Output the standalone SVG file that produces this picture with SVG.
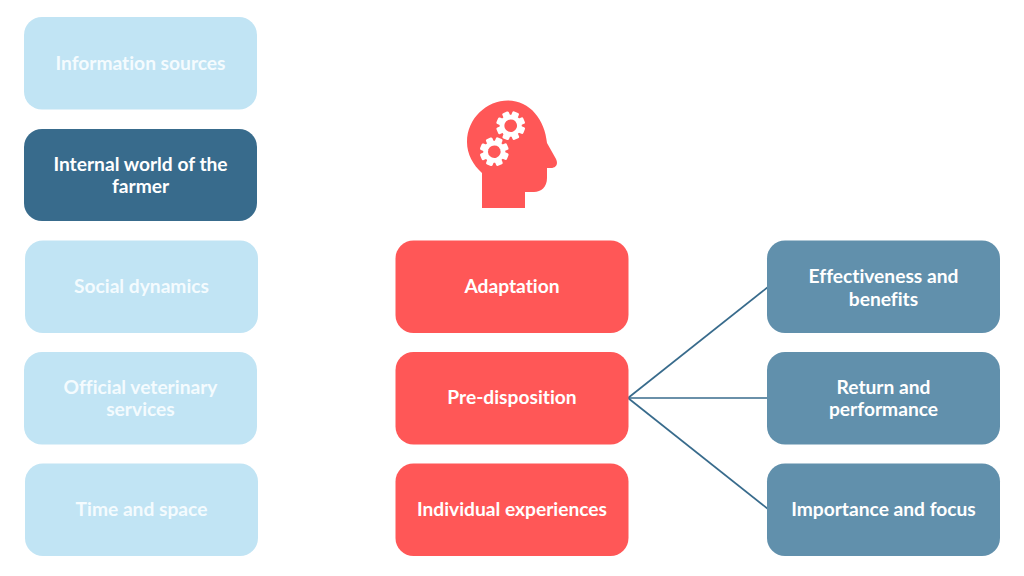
<svg xmlns="http://www.w3.org/2000/svg" width="1024" height="576" viewBox="0 0 1024 576">
<style>
.box{stroke:none}
.light{fill:#c1e4f4}
.dark{fill:#386b8c}
.red{fill:#ff5757}
.mid{fill:#6190ac}
text{font-family:Lato,"Open Sans",sans-serif;font-size:19.2px;font-weight:700;fill:#fff;text-anchor:middle;font-variant-ligatures:none}
.light+text{fill:#f4fbfe}
.conn{stroke:#386b8c;stroke-width:1.7;fill:none}
</style>
<defs>
<g id="gear">
<circle r="11" fill="#fff"/>
<rect x="-3.500" y="-14.500" width="7" height="29" rx="1.500" fill="#fff"/>
<rect x="-3.500" y="-14.500" width="7" height="29" rx="1.500" fill="#fff" transform="rotate(45)"/>
<rect x="-3.500" y="-14.500" width="7" height="29" rx="1.500" fill="#fff" transform="rotate(90)"/>
<rect x="-3.500" y="-14.500" width="7" height="29" rx="1.500" fill="#fff" transform="rotate(135)"/>
<circle r="6.300" fill="#ff5757"/>
</g>
</defs>
<g id="connectors">
<line class="conn" x1="628" y1="398" x2="768" y2="287"/>
<line class="conn" x1="628" y1="398" x2="768" y2="398"/>
<line class="conn" x1="628" y1="398" x2="768" y2="509"/>
</g>
<g id="n-information"><rect class="box light" x="24" y="17" width="233" height="92.500" rx="18"/><text x="140.500" y="70">Information sources</text></g>
<g id="n-internal"><rect class="box dark" x="24" y="129" width="233" height="92" rx="18"/><text x="140.500" y="171">Internal world of the</text><text x="140.500" y="193">farmer</text></g>
<g id="n-social"><rect class="box light" x="25" y="240.500" width="233" height="92.500" rx="18"/><text x="141.500" y="293">Social dynamics</text></g>
<g id="n-official"><rect class="box light" x="24" y="352" width="233" height="92.500" rx="18"/><text x="140.500" y="394">Official veterinary</text><text x="140.500" y="416" style="fill:#f4fbfe">services</text></g>
<g id="n-time"><rect class="box light" x="25" y="463.500" width="233" height="92.500" rx="18"/><text x="141.500" y="516">Time and space</text></g>
<g id="head-icon">
<path class="red" d="M482 208V173C473 165 467 154 467 142C467 118 487 100.500 508 100.500C530 100.500 545 120 547 143L556 159C558.500 164 556 168 551 168H547V178C547 187 541 192 534 192H525V208Z"/>
<use href="#gear" transform="translate(510.700 125.700) rotate(22)"/>
<use href="#gear" transform="translate(494.300 151.700) rotate(22)"/>
</g>
<g id="n-adaptation"><rect class="box red" x="395.500" y="240.500" width="233" height="92.500" rx="18"/><text x="512" y="293">Adaptation</text></g>
<g id="n-predisposition"><rect class="box red" x="395.500" y="352" width="233" height="92.500" rx="18"/><text x="512" y="404">Pre-disposition</text></g>
<g id="n-individual"><rect class="box red" x="395.500" y="463.500" width="233" height="92.500" rx="18"/><text x="512" y="516">Individual experiences</text></g>
<g id="n-effectiveness"><rect class="box mid" x="767" y="240.500" width="233" height="92.500" rx="18"/><text x="883.500" y="283">Effectiveness and</text><text x="883.500" y="305.500">benefits</text></g>
<g id="n-return"><rect class="box mid" x="767" y="352" width="233" height="92.500" rx="18"/><text x="883.500" y="394">Return and</text><text x="883.500" y="416">performance</text></g>
<g id="n-importance"><rect class="box mid" x="767" y="463.500" width="233" height="92.500" rx="18"/><text x="883.500" y="516">Importance and focus</text></g>
</svg>
